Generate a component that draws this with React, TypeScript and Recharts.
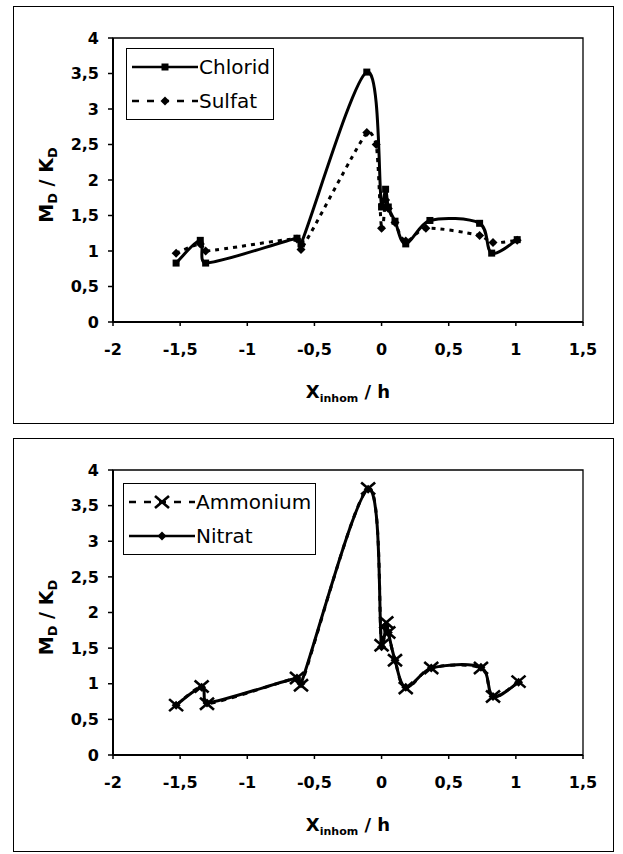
import React from "react"
import { LineChart, Line, XAxis, YAxis, Legend, ReferenceArea } from "recharts"

// axis ticks
const xTicks = [-2, -1.5, -1, -0.5, 0, 0.5, 1, 1.5]
const yTicks = [0, 0.5, 1, 1.5, 2, 2.5, 3, 3.5, 4]

// top chart: Chlorid / Sulfat
const chloridX = [-1.53, -1.35, -1.31, -0.63, -0.6, -0.11, 0.0, 0.03, 0.05, 0.1, 0.18, 0.36, 0.73, 0.82, 1.01]
const chloridY = [0.83, 1.15, 0.83, 1.18, 1.1, 3.52, 1.62, 1.87, 1.62, 1.42, 1.1, 1.43, 1.39, 0.97, 1.16]
const sulfatX = [-1.53, -1.35, -1.31, -0.63, -0.6, -0.11, -0.04, 0.0, 0.03, 0.05, 0.1, 0.18, 0.33, 0.73, 0.83, 1.01]
const sulfatY = [0.97, 1.1, 1.0, 1.17, 1.02, 2.67, 2.5, 1.32, 1.72, 1.6, 1.4, 1.14, 1.32, 1.22, 1.12, 1.15]

// bottom chart: Ammonium / Nitrat
const ammoniumX = [-1.53, -1.34, -1.3, -0.63, -0.6, -0.1, 0.0, 0.035, 0.05, 0.1, 0.18, 0.37, 0.74, 0.83, 1.02]
const ammoniumY = [0.7, 0.96, 0.72, 1.08, 0.98, 3.74, 1.54, 1.86, 1.72, 1.33, 0.94, 1.22, 1.22, 0.82, 1.03]
const nitratX = [-1.53, -1.34, -1.3, -0.63, -0.6, -0.1, 0.0, 0.035, 0.05, 0.1, 0.18, 0.37, 0.74, 0.83, 1.02]
const nitratY = [0.7, 0.95, 0.73, 1.08, 1.0, 3.73, 1.52, 1.82, 1.72, 1.33, 0.95, 1.22, 1.23, 0.82, 1.02]

const zip = (xs: number[], ys: number[]) => xs.map((x, i) => ({ x, y: ys[i] }))

const FONT = "'DejaVu Sans', sans-serif"
const fmt = (v: number) => String(v).replace(".", ",")

// Excel-style smoothed line: Catmull-Rom, tangents clamped on short segments
function smoothCurve(context: any) {
    let pts: [number, number][] = []
    const clamp = (vx: number, vy: number, max: number): [number, number] => {
        const len = Math.hypot(vx, vy)
        if (len <= max || len === 0) return [vx, vy]
        return [(vx * max) / len, (vy * max) / len]
    }
    return {
        areaStart() {},
        areaEnd() {},
        lineStart() {
            pts = []
        },
        point(x: number, y: number) {
            pts.push([+x, +y])
        },
        lineEnd() {
            const n = pts.length
            if (!n) return
            context.moveTo(pts[0][0], pts[0][1])
            for (let i = 0; i < n - 1; i++) {
                const p0 = pts[i - 1] || pts[i]
                const p1 = pts[i]
                const p2 = pts[i + 1]
                const p3 = pts[i + 2] || p2
                const d = Math.hypot(p2[0] - p1[0], p2[1] - p1[1]) / 3
                const a = clamp((p2[0] - p0[0]) / 6, (p2[1] - p0[1]) / 6, d)
                const b = clamp((p3[0] - p1[0]) / 6, (p3[1] - p1[1]) / 6, d)
                context.bezierCurveTo(p1[0] + a[0], p1[1] + a[1], p2[0] - b[0], p2[1] - b[1], p2[0], p2[1])
            }
        },
    }
}

type MarkerKind = "square" | "diamond" | "cross"

const STYLES: Record<string, { dash?: string; marker: MarkerKind }> = {
    Chlorid: { marker: "square" },
    Sulfat: { dash: "4 5", marker: "diamond" },
    Ammonium: { dash: "5 6", marker: "cross" },
    Nitrat: { marker: "diamond" },
}

function marker(kind: MarkerKind, cx: number, cy: number, key?: string) {
    if (kind === "square") {
        return <rect key={key} x={cx - 3.5} y={cy - 3.5} width={7} height={7} fill="#000" />
    }
    if (kind === "diamond") {
        return (
            <polygon
                key={key}
                points={`${cx},${cy - 4.5} ${cx + 4.5},${cy} ${cx},${cy + 4.5} ${cx - 4.5},${cy}`}
                fill="#000"
            />
        )
    }
    return (
        <g key={key} stroke="#000" strokeWidth={2.6}>
            <line x1={cx - 7} y1={cy - 6} x2={cx + 7} y2={cy + 6} />
            <line x1={cx - 7} y1={cy + 6} x2={cx + 7} y2={cy - 6} />
        </g>
    )
}

const dotOf = (kind: MarkerKind) => (p: any) => {
    if (p.cx == null || p.cy == null) return <g key={`e-${p.index}`} />
    return marker(kind, p.cx, p.cy, `d-${p.index}`)
}

function LegendBox({ payload, width }: any) {
    return (
        <div
            style={{
                border: "1.5px solid #000",
                background: "#fff",
                boxSizing: "border-box",
                width,
                padding: "1px 0 1px 5px",
            }}
        >
            {(payload || []).map((p: any) => {
                const s = STYLES[p.value]
                return (
                    <div key={p.value} style={{ display: "flex", alignItems: "center", height: 34 }}>
                        <svg width={66} height={20}>
                            <line x1={0} y1={10} x2={66} y2={10} stroke="#000" strokeWidth={2.6} strokeDasharray={s.dash ? "7 8" : undefined} />
                            {marker(s.marker, 33, 10)}
                        </svg>
                        <span style={{ fontFamily: FONT, fontSize: 20, marginLeft: 1, color: "#000" }}>{p.value}</span>
                    </div>
                )
            })}
        </div>
    )
}

function XTitle({ viewBox }: any) {
    const cx = viewBox.x + viewBox.width / 2
    const y = viewBox.y + 76
    return (
        <text x={cx} y={y} textAnchor="middle" fontFamily={FONT} fontWeight="bold" fontSize={18} fill="#000">
            <tspan>X</tspan>
            <tspan fontSize={11} dy={4}>inhom</tspan>
            <tspan dy={-4}> / h</tspan>
        </text>
    )
}

function YTitle({ viewBox }: any) {
    const x = 53
    const y = viewBox.y + viewBox.height / 2 + 5
    return (
        <text
            x={x}
            y={y}
            transform={`rotate(-90 ${x} ${y})`}
            textAnchor="middle"
            fontFamily={FONT}
            fontWeight="bold"
            fontSize={19}
            fill="#000"
        >
            <tspan>M</tspan>
            <tspan fontSize={13} dy={4}>D</tspan>
            <tspan dy={-4}> / K</tspan>
            <tspan fontSize={13} dy={4}>D</tspan>
        </text>
    )
}

const tickStyle = { fill: "#000", fontSize: 16, fontWeight: "bold", fontFamily: FONT }

function Panel({
    series,
    legendTop,
    legendLeft,
    legendWidth,
    marginTop,
    xHeight,
}: {
    series: { name: string; data: { x: number; y: number }[]; width: number }[]
    legendTop: number
    legendLeft: number
    legendWidth: number
    marginTop: number
    xHeight: number
}) {
    return (
        <LineChart width={623} height={420} margin={{ top: marginTop, right: 40, bottom: 0, left: 0 }}>
            <XAxis
                type="number"
                dataKey="x"
                domain={[-2, 1.5]}
                ticks={xTicks}
                interval={0}
                allowDataOverflow
                height={xHeight}
                tickFormatter={fmt}
                tick={tickStyle}
                tickSize={4}
                tickMargin={18}
                axisLine={{ stroke: "#000", strokeWidth: 2 }}
                tickLine={{ stroke: "#000", strokeWidth: 1.5 }}
                label={{ content: XTitle }}
            />
            <YAxis
                type="number"
                domain={[0, 4]}
                ticks={yTicks}
                interval={0}
                width={113}
                tickFormatter={fmt}
                tick={tickStyle}
                tickSize={5}
                tickMargin={9}
                axisLine={{ stroke: "#000", strokeWidth: 2 }}
                tickLine={{ stroke: "#000", strokeWidth: 1.5 }}
                label={{ content: YTitle }}
            />
            <ReferenceArea x1={-2} x2={1.5} y1={0} y2={4} fill="none" stroke="#000" strokeWidth={1.3} />
            {series.map((s) => (
                <Line
                    key={s.name}
                    name={s.name}
                    data={s.data}
                    dataKey="y"
                    type={smoothCurve as any}
                    stroke="#000"
                    strokeWidth={s.width}
                    strokeDasharray={STYLES[s.name].dash}
                    dot={dotOf(STYLES[s.name].marker)}
                    activeDot={false}
                    isAnimationActive={false}
                />
            ))}
            <Legend
                layout="vertical"
                align="center"
                verticalAlign="middle"
                wrapperStyle={{ top: legendTop, left: legendLeft, width: legendWidth }}
                content={(props: any) => <LegendBox payload={props.payload} width={legendWidth} />}
            />
        </LineChart>
    )
}

export default function App() {
    return (
        <div
            style={{
                position: "absolute",
                left: 0,
                top: 0,
                width: 623,
                height: 854,
                background: "#fff",
                overflow: "hidden",
            }}
        >
            <div
                style={{
                    position: "absolute",
                    left: 13,
                    top: 6,
                    width: 601,
                    height: 418,
                    border: "1.5px solid #000",
                    boxSizing: "border-box",
                }}
            />
            <div
                style={{
                    position: "absolute",
                    left: 13,
                    top: 438,
                    width: 601,
                    height: 414,
                    border: "1.5px solid #000",
                    boxSizing: "border-box",
                }}
            />
            <div style={{ position: "absolute", left: 0, top: 0 }}>
                <Panel
                    series={[
                        { name: "Chlorid", data: zip(chloridX, chloridY), width: 3 },
                        { name: "Sulfat", data: zip(sulfatX, sulfatY), width: 3 },
                    ]}
                    legendTop={48}
                    legendLeft={126}
                    legendWidth={148}
                    marginTop={38}
                    xHeight={98}
                />
            </div>
            <div style={{ position: "absolute", left: 0, top: 430 }}>
                <Panel
                    series={[
                        { name: "Ammonium", data: zip(ammoniumX, ammoniumY), width: 3 },
                        { name: "Nitrat", data: zip(nitratX, nitratY), width: 3 },
                    ]}
                    legendTop={53}
                    legendLeft={123}
                    legendWidth={193}
                    marginTop={40}
                    xHeight={95}
                />
            </div>
        </div>
    )
}
